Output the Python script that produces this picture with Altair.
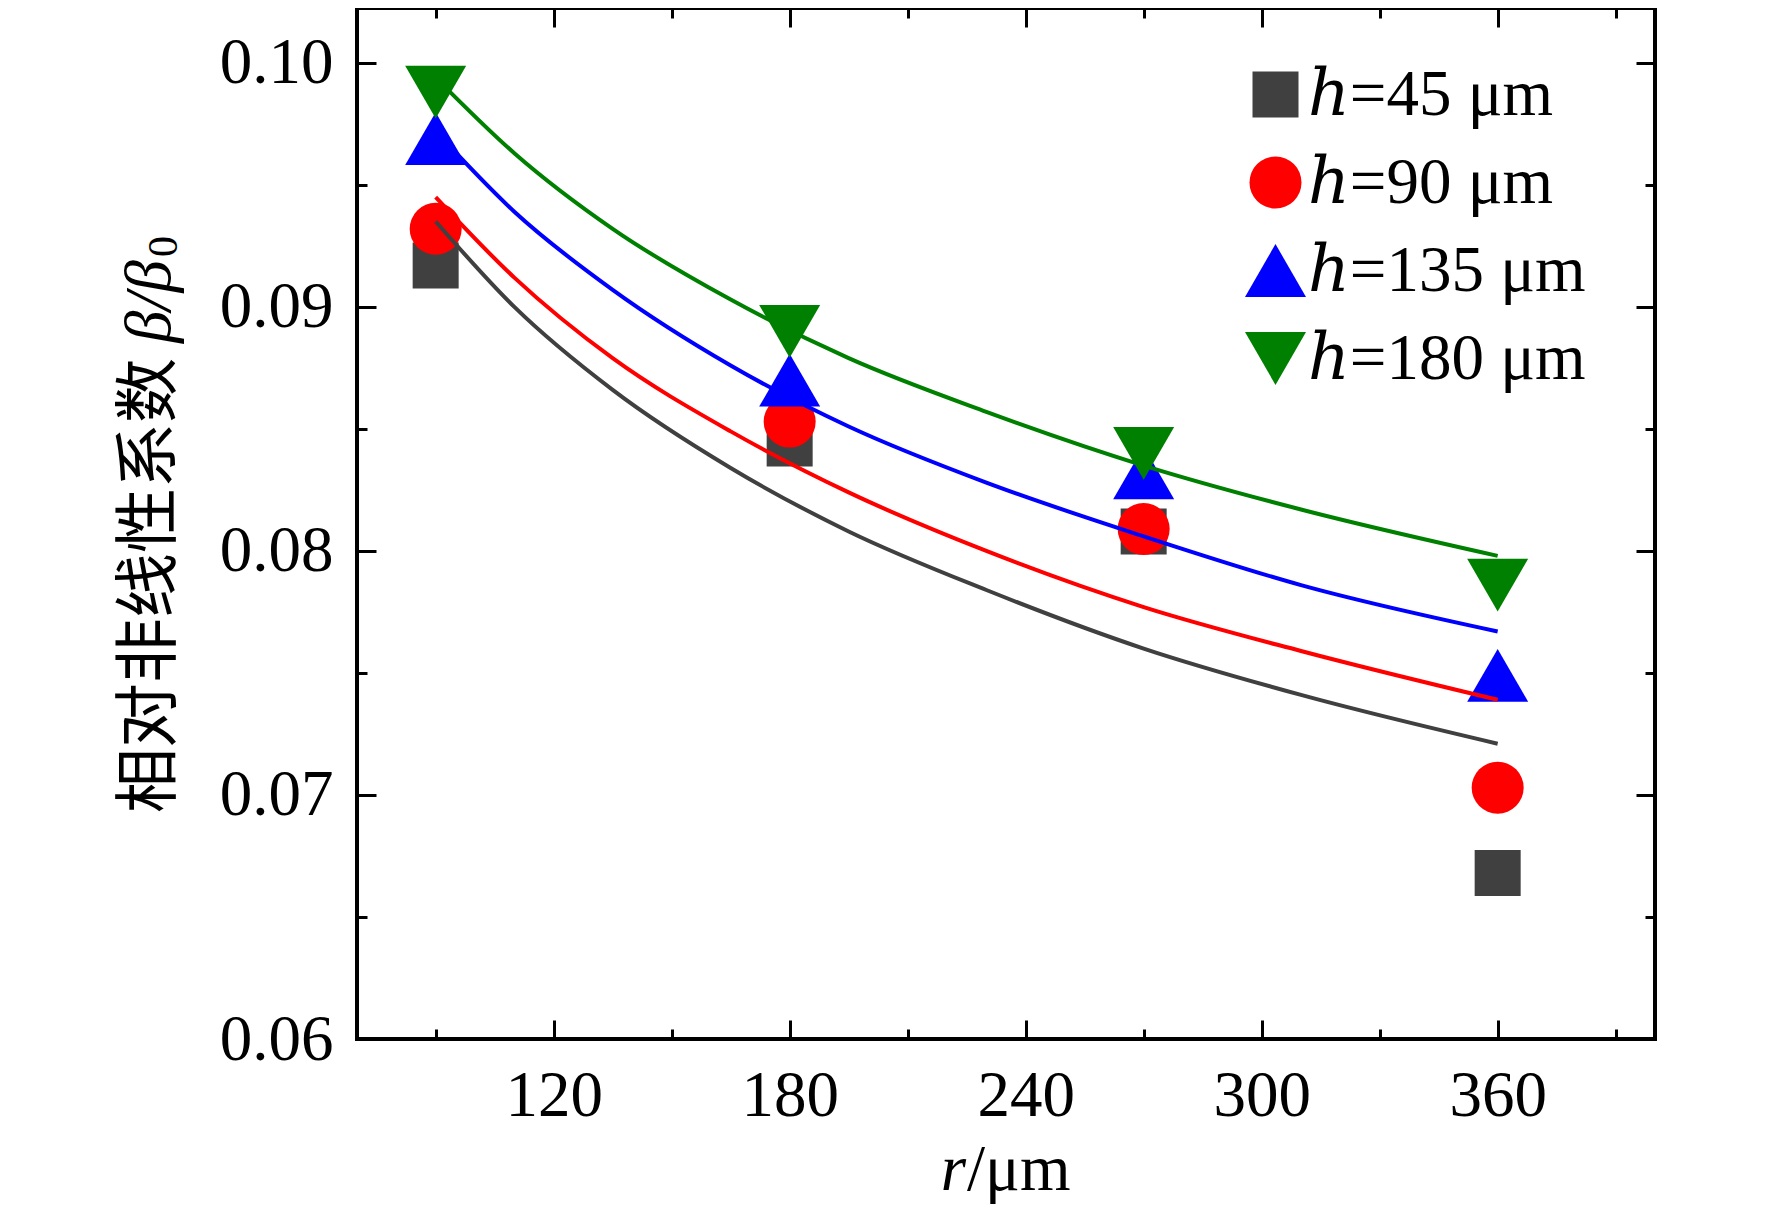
import altair as alt
import pandas as pd

# ---------------- data ----------------
series = ["ℎ=45 μm", "ℎ=90 μm", "ℎ=135 μm", "ℎ=180 μm"]
colors = ["#404040", "#ff0000", "#0000ff", "#008000"]
shapes = ["square", "circle", "triangle-up", "triangle-down"]
marker_sizes = [2116, 2704, 3721, 3721]

r_points = [90, 180, 270, 360]
beta_h45 = [0.0917, 0.0844, 0.0808, 0.0668]
beta_h90 = [0.0932, 0.0853, 0.0809, 0.0703]
beta_h135 = [0.0969, 0.0870, 0.0832, 0.0749]
beta_h180 = [0.0988, 0.0890, 0.0840, 0.0786]

fit_r = [90, 110, 135, 165, 195, 230, 270, 310, 360]
fit_h45 = [0.0935, 0.0900, 0.0866, 0.0834, 0.0808, 0.0784, 0.0760, 0.0741, 0.0721]
fit_h90 = [0.0945, 0.0912, 0.0879, 0.0849, 0.0824, 0.0800, 0.0777, 0.0759, 0.0739]
fit_h135 = [0.0972, 0.0939, 0.0907, 0.0876, 0.0851, 0.0828, 0.0806, 0.0786, 0.0767]
fit_h180 = [0.0994, 0.0963, 0.0932, 0.0903, 0.0879, 0.0857, 0.0835, 0.0817, 0.0798]

x_major = [120, 180, 240, 300, 360]
x_minor = [90, 150, 210, 270, 330, 390]
y_major = [0.06, 0.07, 0.08, 0.09, 0.10]
y_minor = [0.065, 0.075, 0.085, 0.095]
x_domain = [70, 400]
y_domain = [0.06, 0.10225]

x_title_italic = "r"
x_title_rest = "/μm"
y_title_cjk = "相对非线性系数"
y_title_italic = "β/β"
y_title_sub = "0"

# ---------------- tables ----------------
point_values = [beta_h45, beta_h90, beta_h135, beta_h180]
points_df = pd.DataFrame(
    [
        {"series": s, "r": r, "beta": b}
        for s, vals in zip(series, point_values)
        for r, b in zip(r_points, vals)
    ]
)
fit_vals = [fit_h45, fit_h90, fit_h135, fit_h180]
fits_df = pd.DataFrame(
    [
        {"series": s, "r": r, "beta": b}
        for s, vals in zip(series, fit_vals)
        for r, b in zip(fit_r, vals)
    ]
)

FONT = "Liberation Serif, DejaVu Serif, serif"
CJK = "Noto Sans CJK SC"
LABEL_SIZE = 65

xs = alt.Scale(domain=x_domain, nice=False, zero=False)
ys = alt.Scale(domain=y_domain, nice=False, zero=False)


def label_axis(orient, values, fmt, pad):
    return alt.Axis(
        orient=orient, values=values, format=fmt, ticks=False, domain=False,
        grid=False, title=None, labelPadding=pad, labelFont=FONT,
        labelFontSize=LABEL_SIZE, labelColor="black", labelFlush=False,
        labelOverlap=False,
    )


def tick_axis(orient, values, size):
    return alt.Axis(
        orient=orient, values=values, labels=False, domain=False, grid=False,
        title=None, ticks=True, tickSize={"expr": str(-size)}, tickWidth=3,
        tickColor="black",
    )


leg = alt.Legend(
    orient="none", legendX=886, legendY=54, title=None, labelFont=FONT,
    labelFontSize=LABEL_SIZE, labelColor="black", rowPadding=22,
    labelOffset=0, padding=0, offset=0, symbolStrokeWidth=0,
    labelLimit=600, symbolOpacity=1,
)

points = alt.Chart(points_df).mark_point(filled=True, opacity=1, strokeWidth=0).encode(
    x=alt.X("r:Q", scale=xs, axis=label_axis("bottom", x_major, "d", 25)),
    y=alt.Y("beta:Q", scale=ys, axis=label_axis("left", y_major, ".2f", 24)),
    color=alt.Color("series:N", scale=alt.Scale(domain=series, range=colors), legend=leg),
    shape=alt.Shape("series:N", scale=alt.Scale(domain=series, range=shapes), legend=leg),
    size=alt.Size("series:N", scale=alt.Scale(type="ordinal", domain=series, range=marker_sizes), legend=leg),
)

curves = alt.Chart(fits_df).mark_line(strokeWidth=4, interpolate="monotone").encode(
    x=alt.X("r:Q", scale=xs, axis=tick_axis("bottom", x_major, 19)),
    y=alt.Y("beta:Q", scale=ys, axis=tick_axis("left", y_major, 19)),
    color=alt.Color("series:N", scale=alt.Scale(domain=series, range=colors), legend=None),
    detail="series:N",
)


def carrier(xo, xv, yo, yv, size):
    return alt.Chart(points_df).mark_point(opacity=0).encode(
        x=alt.X("r:Q", scale=xs, axis=tick_axis(xo, xv, size)),
        y=alt.Y("beta:Q", scale=ys, axis=tick_axis(yo, yv, size)),
    )


minor_bl = carrier("bottom", x_minor, "left", y_minor, 10)
major_tr = carrier("top", x_major, "right", y_major, 19)
minor_tr = carrier("top", x_minor, "right", y_minor, 10)


def text_layer(txt, x, y, size, style="normal", font=FONT, align="left",
               baseline="alphabetic", angle=0):
    return alt.Chart(alt.Data(values=[{}])).mark_text(
        text=txt, font=font, fontSize=size, fontStyle=style, align=align,
        baseline=baseline, angle=angle, color="black",
    ).encode(x=alt.value(x), y=alt.value(y))


xt1 = text_layer(x_title_italic, 609, 1182, 65, style="italic", align="right")
xt2 = text_layer(x_title_rest, 610, 1182, 65)
yt1 = text_layer(y_title_cjk, -207, 805, 65, font=CJK, baseline="middle", angle=270)
yt2 = text_layer(y_title_italic, -207, 335, 65, style="italic", baseline="middle", angle=270)
yt3 = text_layer(y_title_sub, -193, 249, 42, baseline="middle", angle=270)

chart = (
    alt.layer(points, minor_bl, major_tr, minor_tr, curves, xt1, xt2, yt1, yt2, yt3)
    .resolve_axis(x="independent", y="independent")
    .properties(
        width=1298, height=1031,
        autosize=alt.AutoSizeParams(type="none"),
        padding={"left": 349, "top": 0, "right": 109, "bottom": 165},
        background="white",
    )
    .configure_view(stroke="black", strokeWidth=4)
)

chart.save("out.html", embed_options={"renderer": "svg", "actions": False})
